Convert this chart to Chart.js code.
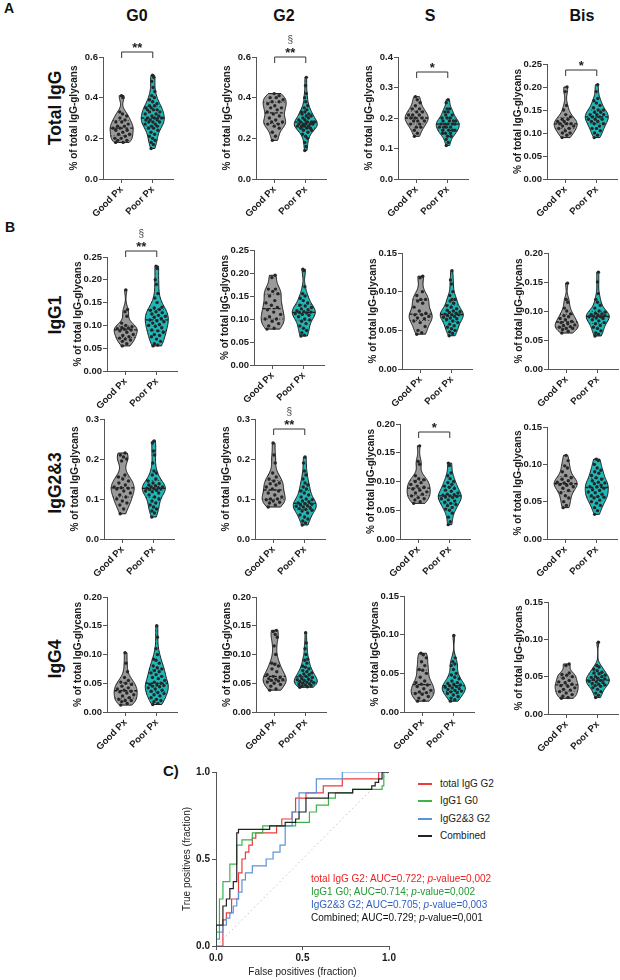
<!DOCTYPE html>
<html>
<head>
<meta charset="utf-8">
<script src="https://cdn.jsdelivr.net/npm/chart.js@4.4.1/dist/chart.umd.min.js"></script>
<style>
body { margin: 0; background: #fff; font-family: 'Liberation Sans', Arial, sans-serif; color: #111; }
#page { position: relative; width: 620px; height: 980px; overflow: hidden; }
.lab { position: absolute; white-space: nowrap; font-weight: bold; }
.rot { transform: translate(-50%, -50%) rotate(-90deg); }
.ctr { transform: translate(-50%, -50%); }
canvas { position: absolute; }
.leg { position: absolute; font-size: 10px; white-space: nowrap; color: #1a1a1a; }
.leg i { display: inline-block; width: 14px; height: 2px; vertical-align: middle; margin-right: 8px; }
.auc { position: absolute; font-size: 10px; white-space: nowrap; transform: translateY(-50%); }
</style>
</head>
<body>
<div id="page"></div>
<script>
// categories and labels
const groups = ['Good Px', 'Poor Px'];
const glycans = ['G0', 'G2', 'S', 'Bis'];
const subclasses = ['Total IgG', 'IgG1', 'IgG2&3', 'IgG4'];
const yTitle = '% of total IgG-glycans';

// y axis max / step, per subclass row and glycan column
const yMax  = [[0.6, 0.6, 0.4, 0.25], [0.25, 0.25, 0.15, 0.20], [0.3, 0.3, 0.20, 0.15], [0.20, 0.20, 0.15, 0.15]];
const yStep = [[0.2, 0.2, 0.1, 0.05], [0.05, 0.05, 0.05, 0.05], [0.1, 0.1, 0.05, 0.05], [0.05, 0.05, 0.05, 0.05]];

// significance marks
const stars   = [['**', '**', '*', '*'], ['**', '', '', ''], ['', '**', '*', ''], ['', '', '', '']];
const section = [[0, 1, 0, 0], [1, 0, 0, 0], [0, 1, 0, 0], [0, 0, 0, 0]];

// Total IgG
const totG0_good = [0.41,0.40,0.33,0.32,0.31,0.30,0.29,0.28,0.28,0.27,0.26,0.26,0.25,0.25,0.24,0.24,0.23,0.22,0.22,0.21,0.20,0.20,0.19,0.19,0.18,0.18];
const totG0_poor = [0.51,0.50,0.48,0.45,0.43,0.41,0.40,0.39,0.38,0.37,0.36,0.36,0.35,0.35,0.34,0.34,0.34,0.33,0.33,0.32,0.32,0.31,0.31,0.30,0.30,0.30,0.29,0.29,0.29,0.28,0.28,0.28,0.27,0.27,0.26,0.26,0.25,0.25,0.24,0.23,0.22,0.21,0.20,0.19,0.18,0.17,0.15];
const totG2_good = [0.42,0.41,0.40,0.40,0.39,0.38,0.38,0.37,0.36,0.35,0.35,0.34,0.33,0.32,0.31,0.30,0.29,0.28,0.28,0.27,0.27,0.26,0.25,0.23,0.21,0.19];
const totG2_poor = [0.50,0.46,0.42,0.40,0.38,0.36,0.35,0.34,0.33,0.33,0.32,0.32,0.31,0.31,0.30,0.30,0.29,0.29,0.28,0.28,0.28,0.28,0.27,0.27,0.27,0.27,0.27,0.26,0.26,0.26,0.26,0.25,0.25,0.25,0.24,0.24,0.23,0.22,0.21,0.20,0.18,0.16,0.14];
const totS_good = [0.27,0.26,0.25,0.24,0.23,0.23,0.22,0.22,0.21,0.21,0.21,0.20,0.20,0.20,0.19,0.19,0.19,0.18,0.18,0.17,0.17,0.16,0.15,0.14];
const totS_poor = [0.26,0.25,0.23,0.23,0.22,0.22,0.21,0.21,0.20,0.20,0.20,0.19,0.19,0.19,0.19,0.18,0.18,0.18,0.18,0.18,0.17,0.17,0.17,0.17,0.16,0.16,0.16,0.16,0.15,0.15,0.15,0.14,0.14,0.13,0.12,0.11];
const totBis_good = [0.20,0.19,0.16,0.15,0.14,0.135,0.13,0.13,0.125,0.125,0.12,0.12,0.12,0.115,0.115,0.11,0.11,0.105,0.10,0.10,0.095,0.09];
const totBis_poor = [0.205,0.19,0.175,0.17,0.165,0.16,0.155,0.15,0.15,0.145,0.145,0.14,0.14,0.14,0.135,0.135,0.13,0.13,0.13,0.125,0.125,0.12,0.12,0.115,0.11,0.11,0.105,0.10,0.095,0.09];

// IgG1
const g1G0_good = [0.178,0.135,0.13,0.12,0.105,0.10,0.097,0.095,0.094,0.093,0.092,0.09,0.088,0.085,0.08,0.078,0.075,0.072,0.07,0.068,0.065,0.06,0.055];
const g1G0_poor = [0.23,0.225,0.20,0.19,0.17,0.16,0.15,0.14,0.138,0.135,0.133,0.13,0.128,0.125,0.122,0.12,0.118,0.115,0.112,0.11,0.108,0.105,0.102,0.10,0.098,0.095,0.09,0.088,0.085,0.08,0.078,0.075,0.07,0.065,0.06,0.057,0.055];
const g1G2_good = [0.195,0.19,0.165,0.165,0.16,0.155,0.15,0.14,0.135,0.13,0.125,0.12,0.115,0.11,0.105,0.10,0.10,0.095,0.09,0.085,0.08,0.078];
const g1G2_poor = [0.208,0.205,0.17,0.155,0.15,0.145,0.14,0.135,0.13,0.128,0.125,0.122,0.12,0.118,0.116,0.115,0.114,0.113,0.112,0.11,0.108,0.105,0.10,0.098,0.095,0.09,0.085,0.08,0.075,0.07,0.065,0.063];
const g1S_good = [0.12,0.118,0.10,0.095,0.09,0.09,0.088,0.085,0.08,0.075,0.072,0.07,0.07,0.068,0.066,0.065,0.062,0.06,0.055,0.05,0.047,0.045];
const g1S_poor = [0.127,0.115,0.11,0.10,0.095,0.09,0.09,0.088,0.085,0.082,0.08,0.078,0.076,0.075,0.074,0.073,0.072,0.071,0.07,0.07,0.069,0.068,0.067,0.066,0.065,0.064,0.062,0.06,0.058,0.056,0.054,0.052,0.05,0.048,0.046,0.043];
const g1Bis_good = [0.148,0.12,0.115,0.105,0.10,0.095,0.092,0.09,0.087,0.085,0.082,0.08,0.078,0.076,0.075,0.073,0.072,0.07,0.07,0.068,0.065,0.062];
const g1Bis_poor = [0.167,0.15,0.13,0.12,0.115,0.11,0.105,0.10,0.098,0.096,0.095,0.094,0.093,0.092,0.091,0.09,0.09,0.088,0.087,0.085,0.083,0.08,0.078,0.075,0.072,0.07,0.066,0.062,0.06,0.057];

// IgG2&3
const g23G0_good = [0.215,0.21,0.205,0.20,0.195,0.16,0.155,0.15,0.145,0.14,0.135,0.13,0.128,0.127,0.125,0.12,0.115,0.11,0.105,0.10,0.095,0.09,0.085,0.075,0.063];
const g23G0_poor = [0.245,0.24,0.22,0.21,0.19,0.17,0.165,0.16,0.15,0.145,0.14,0.138,0.135,0.133,0.13,0.13,0.128,0.127,0.126,0.125,0.124,0.122,0.12,0.118,0.115,0.11,0.105,0.10,0.095,0.09,0.085,0.08,0.075,0.07,0.065,0.055];
const g23G2_good = [0.24,0.21,0.19,0.165,0.155,0.15,0.145,0.14,0.138,0.135,0.13,0.125,0.12,0.115,0.11,0.105,0.10,0.10,0.098,0.095,0.092,0.09,0.085,0.08];
const g23G2_poor = [0.205,0.19,0.17,0.16,0.15,0.14,0.135,0.13,0.125,0.12,0.115,0.11,0.105,0.10,0.098,0.095,0.093,0.09,0.088,0.087,0.085,0.083,0.082,0.08,0.078,0.076,0.074,0.072,0.07,0.065,0.06,0.055,0.05,0.045,0.04,0.035];
const g23S_good = [0.162,0.135,0.13,0.11,0.105,0.103,0.10,0.098,0.095,0.092,0.09,0.087,0.085,0.082,0.08,0.078,0.075,0.072,0.07,0.068,0.065,0.062];
const g23S_poor = [0.132,0.128,0.115,0.11,0.105,0.10,0.098,0.095,0.092,0.09,0.088,0.085,0.083,0.08,0.078,0.077,0.076,0.075,0.074,0.073,0.072,0.07,0.068,0.066,0.064,0.062,0.06,0.058,0.055,0.052,0.05,0.045,0.038,0.03,0.025];
const g23Bis_good = [0.112,0.105,0.098,0.095,0.09,0.085,0.082,0.08,0.078,0.076,0.075,0.074,0.073,0.072,0.07,0.068,0.065,0.062,0.058,0.055,0.05,0.045,0.042];
const g23Bis_poor = [0.107,0.105,0.10,0.095,0.092,0.09,0.088,0.085,0.082,0.08,0.078,0.076,0.075,0.074,0.072,0.07,0.07,0.068,0.066,0.065,0.063,0.062,0.06,0.058,0.057,0.056,0.055,0.052,0.05,0.048,0.045,0.042,0.038,0.033];

// IgG4
const g4G0_good = [0.103,0.085,0.07,0.06,0.055,0.052,0.05,0.048,0.045,0.042,0.04,0.038,0.036,0.035,0.033,0.03,0.028,0.025,0.022,0.02,0.02,0.018,0.015,0.012];
const g4G0_poor = [0.15,0.13,0.11,0.10,0.092,0.09,0.085,0.08,0.077,0.075,0.072,0.07,0.068,0.065,0.062,0.06,0.058,0.055,0.052,0.05,0.048,0.047,0.046,0.045,0.044,0.042,0.04,0.038,0.036,0.034,0.032,0.03,0.028,0.025,0.022,0.02,0.018,0.015,0.013];
const g4G2_good = [0.142,0.14,0.135,0.13,0.115,0.10,0.085,0.083,0.08,0.075,0.07,0.065,0.062,0.06,0.058,0.057,0.056,0.055,0.054,0.052,0.05,0.048,0.045,0.04,0.038];
const g4G2_poor = [0.138,0.12,0.11,0.10,0.092,0.09,0.085,0.08,0.078,0.075,0.072,0.07,0.068,0.066,0.065,0.063,0.062,0.06,0.058,0.057,0.056,0.055,0.054,0.053,0.052,0.051,0.05,0.049,0.048,0.047,0.046,0.045,0.044,0.043];
const g4S_good = [0.076,0.074,0.07,0.065,0.06,0.055,0.054,0.05,0.045,0.04,0.038,0.036,0.035,0.033,0.03,0.028,0.026,0.025,0.024,0.023,0.02,0.018,0.015,0.014];
const g4S_poor = [0.099,0.07,0.065,0.062,0.06,0.055,0.05,0.048,0.045,0.043,0.04,0.038,0.037,0.036,0.035,0.034,0.033,0.032,0.031,0.03,0.029,0.028,0.027,0.026,0.025,0.024,0.022,0.02,0.018,0.016,0.014];
const g4Bis_good = [0.067,0.065,0.055,0.053,0.052,0.05,0.048,0.045,0.043,0.042,0.04,0.038,0.037,0.035,0.033,0.032,0.03,0.028,0.026,0.024,0.022,0.021];
const g4Bis_poor = [0.096,0.065,0.063,0.06,0.058,0.056,0.055,0.054,0.052,0.05,0.05,0.049,0.048,0.047,0.046,0.045,0.044,0.043,0.042,0.041,0.04,0.039,0.038,0.037,0.035,0.033,0.03,0.028,0.025,0.022];

const values = [
  [[totG0_good, totG0_poor], [totG2_good, totG2_poor], [totS_good, totS_poor], [totBis_good, totBis_poor]],
  [[g1G0_good, g1G0_poor], [g1G2_good, g1G2_poor], [g1S_good, g1S_poor], [g1Bis_good, g1Bis_poor]],
  [[g23G0_good, g23G0_poor], [g23G2_good, g23G2_poor], [g23S_good, g23S_poor], [g23Bis_good, g23Bis_poor]],
  [[g4G0_good, g4G0_poor], [g4G2_good, g4G2_poor], [g4S_good, g4S_poor], [g4Bis_good, g4Bis_poor]]
];

// ROC curves (false positive fraction, true positive fraction)
const rocTotalG2 = [[0,0],[0.04,0],[0.04,0.15],[0.06,0.15],[0.06,0.19],[0.09,0.19],[0.09,0.27],[0.13,0.27],[0.13,0.42],[0.15,0.42],[0.15,0.50],[0.17,0.50],[0.17,0.54],[0.19,0.54],[0.19,0.58],[0.21,0.58],[0.21,0.62],[0.23,0.62],[0.23,0.65],[0.35,0.65],[0.35,0.69],[0.38,0.69],[0.38,0.73],[0.44,0.73],[0.44,0.77],[0.46,0.77],[0.46,0.85],[0.52,0.85],[0.52,0.88],[0.62,0.88],[0.62,0.92],[0.73,0.92],[0.73,0.96],[0.94,0.96],[0.94,1],[1,1]];
const rocIgG1G0 = [[0,0],[0,0.08],[0.02,0.08],[0.02,0.27],[0.04,0.27],[0.04,0.37],[0.08,0.37],[0.08,0.47],[0.12,0.47],[0.12,0.58],[0.15,0.58],[0.15,0.61],[0.21,0.61],[0.21,0.65],[0.27,0.65],[0.27,0.69],[0.46,0.69],[0.46,0.71],[0.54,0.71],[0.54,0.77],[0.58,0.77],[0.58,0.81],[0.65,0.81],[0.65,0.85],[0.69,0.85],[0.69,0.88],[0.79,0.88],[0.79,0.90],[0.96,0.90],[0.96,0.92],[0.97,0.92],[0.97,1],[1,1]];
const rocIgG23G2 = [[0,0],[0,0.04],[0.02,0.04],[0.02,0.08],[0.04,0.08],[0.04,0.12],[0.06,0.12],[0.06,0.16],[0.08,0.16],[0.08,0.19],[0.10,0.19],[0.10,0.23],[0.12,0.23],[0.12,0.27],[0.13,0.27],[0.13,0.31],[0.15,0.31],[0.15,0.38],[0.17,0.38],[0.17,0.42],[0.21,0.42],[0.21,0.46],[0.29,0.46],[0.29,0.50],[0.33,0.50],[0.33,0.54],[0.37,0.54],[0.37,0.58],[0.40,0.58],[0.40,0.69],[0.44,0.69],[0.44,0.77],[0.48,0.77],[0.48,0.88],[0.58,0.88],[0.58,0.96],[0.73,0.96],[0.73,1],[1,1]];
const rocCombined = [[0,0],[0,0.12],[0.04,0.12],[0.04,0.23],[0.06,0.23],[0.06,0.27],[0.08,0.27],[0.08,0.33],[0.10,0.33],[0.10,0.37],[0.12,0.37],[0.12,0.65],[0.13,0.65],[0.13,0.67],[0.31,0.67],[0.31,0.69],[0.40,0.69],[0.40,0.71],[0.46,0.71],[0.46,0.73],[0.48,0.73],[0.48,0.77],[0.52,0.77],[0.52,0.85],[0.65,0.85],[0.65,0.88],[0.79,0.88],[0.79,0.90],[0.90,0.90],[0.90,0.92],[0.92,0.92],[0.92,0.94],[0.94,0.94],[0.94,0.96],[0.96,0.96],[0.96,1],[1,1]];
const rocChance = [[0,0],[1,1]];
const rocNames = ['total IgG G2', 'IgG1 G0', 'IgG2&3 G2', 'Combined'];
const rocSep = [':', ';', ';', ';'];
const rocAUC = ['0.722', '0.714', '0.705', '0.729'];
const rocP = ['0,002', '0,002', '0,003', '0,001'];

// ---- layout (pixels) ----
const axisLeft   = [[103, 256, 398, 547], [107, 254, 402, 548], [104, 255, 400, 547], [107, 256, 404, 548]];
const axisTop    = [[57, 57, 57, 64], [257, 250, 253, 253], [419, 419, 424, 427], [597, 597, 596, 602]];
const axisBottom = [[179, 179, 179, 179], [371, 365, 369, 369], [539, 539, 539, 539], [712, 712, 712, 714]];
const bracketOff = [[-5, 0, 15, 6], [-6, 0, 0, 0], [0, 10, 8, 0], [0, 0, 0, 0]];
const fills = ['#9a9a9a', '#1fb7b7'];
const rocColors = ['#f03a3a', '#3bb54a', '#5b93d9', '#222222'];
const FONT = "'Liberation Sans', Arial, sans-serif";

Chart.defaults.font.family = FONT;
Chart.defaults.color = '#1a1a1a';
const page = document.getElementById('page');

function addLabel(html, x, y, size, cls) {
  const d = document.createElement('div');
  d.className = 'lab ' + (cls || '');
  d.style.left = x + 'px';
  d.style.top = y + 'px';
  d.style.fontSize = size + 'px';
  d.innerHTML = html;
  page.appendChild(d);
  return d;
}

// kernel density outline of one violin, truncated at min/max
function violinShape(vals) {
  const s = vals.slice().sort((a, b) => a - b);
  const n = s.length;
  const mean = s.reduce((a, b) => a + b, 0) / n;
  const sd = Math.sqrt(s.reduce((a, b) => a + (b - mean) * (b - mean), 0) / (n - 1));
  const h = 0.7 * sd * Math.pow(n, -0.2);
  const lo = s[0], hi = s[n - 1];
  const pts = [];
  for (let i = 0; i <= 60; i++) {
    const y = lo + (hi - lo) * i / 60;
    let d = 0;
    s.forEach(v => { const z = (y - v) / h; d += Math.exp(-0.5 * z * z); });
    pts.push([y, d]);
  }
  const m = Math.max(...pts.map(p => p[1]));
  return pts.map(p => [p[0], 0.37 * p[1] / m]);
}

function halfWidth(shape, y) {
  for (let i = 1; i < shape.length; i++) {
    if (y <= shape[i][0]) {
      const a = shape[i - 1], b = shape[i];
      const t = b[0] === a[0] ? 0 : (y - a[0]) / (b[0] - a[0]);
      return a[1] + (b[1] - a[1]) * t;
    }
  }
  return shape[shape.length - 1][1];
}

function quantile(s, p) {
  const i = (s.length - 1) * p, a = Math.floor(i), b = Math.ceil(i);
  return s[a] + (s[b] - s[a]) * (i - a);
}

function makePanel(r, c) {
  const L = axisLeft[r][c], T = axisTop[r][c], B = axisBottom[r][c];
  const W = 52 + 70 + 8, H = (B - T) + 45 + 45;
  const cv = document.createElement('canvas');
  cv.width = W; cv.height = H;
  cv.style.left = (L - 52) + 'px';
  cv.style.top = (T - 45) + 'px';
  page.appendChild(cv);

  const sets = values[r][c];
  const shapes = sets.map(violinShape);
  const dec = yStep[r][c] < 0.1 ? 2 : 1;

  const datasets = sets.map((vals, k) => {
    const s = vals.slice().sort((a, b) => a - b);
    return {
      data: s.map((v, i) => {
        const u = (i * 0.618034) % 1;
        return { x: k + (2 * u - 1) * 0.8 * halfWidth(shapes[k], v), y: v };
      }),
      pointRadius: 1.7,
      pointBackgroundColor: '#262626',
      pointBorderWidth: 0
    };
  });

  const violins = {
    id: 'violins',
    beforeDatasetsDraw(chart) {
      const { ctx, scales: { x, y } } = chart;
      shapes.forEach((shape, k) => {
        ctx.save();
        ctx.beginPath();
        shape.forEach(([yy, hw], i) => {
          const px = x.getPixelForValue(k + hw), py = y.getPixelForValue(yy);
          i ? ctx.lineTo(px, py) : ctx.moveTo(px, py);
        });
        for (let i = shape.length - 1; i >= 0; i--) {
          ctx.lineTo(x.getPixelForValue(k - shape[i][1]), y.getPixelForValue(shape[i][0]));
        }
        ctx.closePath();
        ctx.fillStyle = fills[k];
        ctx.fill();
        ctx.strokeStyle = '#1a1a1a';
        ctx.lineWidth = 1;
        ctx.stroke();
        // median and quartiles
        const s = sets[k].slice().sort((a, b) => a - b);
        [[0.25, [1, 2], 0.8], [0.5, [3, 2], 1.3], [0.75, [1, 2], 0.8]].forEach(([p, dash, lw]) => {
          const q = quantile(s, p), hw = halfWidth(shape, q);
          ctx.beginPath();
          ctx.setLineDash(dash);
          ctx.lineWidth = lw;
          ctx.moveTo(x.getPixelForValue(k - hw), y.getPixelForValue(q));
          ctx.lineTo(x.getPixelForValue(k + hw), y.getPixelForValue(q));
          ctx.stroke();
        });
        ctx.restore();
      });
    },
    afterDraw(chart) {
      if (!stars[r][c]) return;
      const { ctx, scales: { x }, chartArea } = chart;
      const by = chartArea.top + bracketOff[r][c];
      const x0 = x.getPixelForValue(0), x1 = x.getPixelForValue(1);
      ctx.save();
      ctx.strokeStyle = '#333';
      ctx.lineWidth = 1;
      ctx.beginPath();
      ctx.moveTo(x0, by + 6); ctx.lineTo(x0, by); ctx.lineTo(x1, by); ctx.lineTo(x1, by + 6);
      ctx.stroke();
      ctx.fillStyle = '#1a1a1a';
      ctx.textAlign = 'center';
      ctx.textBaseline = 'middle';
      ctx.font = 'bold 13px ' + FONT;
      ctx.fillText(stars[r][c], (x0 + x1) / 2, by - 4);
      if (section[r][c]) {
        ctx.font = '10px ' + FONT;
        ctx.fillStyle = '#444';
        ctx.fillText('§', (x0 + x1) / 2, by - 17);
      }
      ctx.restore();
    }
  };

  new Chart(cv, {
    type: 'scatter',
    data: { datasets },
    plugins: [violins],
    options: {
      responsive: false,
      animation: false,
      layout: { padding: { top: 45, left: 0, right: 8, bottom: 0 } },
      plugins: { legend: { display: false }, tooltip: { enabled: false } },
      scales: {
        x: {
          type: 'linear', min: -0.6, max: 1.65,
          afterBuildTicks: ax => { ax.ticks = [{ value: 0 }, { value: 1 }]; },
          afterFit: ax => { ax.height = 45; ax.paddingLeft = 0; ax.paddingRight = 0; },
          grid: { drawOnChartArea: false, tickLength: 4, color: '#555' },
          border: { color: '#555' },
          ticks: {
            autoSkip: false, minRotation: 45, maxRotation: 45, padding: 1,
            font: { size: 9.5, weight: 'bold' }, color: '#1a1a1a',
            callback: v => groups[v]
          }
        },
        y: {
          min: 0, max: yMax[r][c],
          afterFit: ax => { ax.width = 52; ax.paddingTop = 0; ax.paddingBottom = 0; },
          grid: { drawOnChartArea: false, tickLength: 4, color: '#555' },
          border: { color: '#555' },
          ticks: {
            stepSize: yStep[r][c], padding: 1,
            font: { size: 9.5, weight: 'bold' }, color: '#1a1a1a',
            callback: v => v.toFixed(dec)
          },
          title: {
            display: true, text: yTitle, color: '#1a1a1a',
            font: { size: 10, weight: 'bold' }, padding: { top: 17, bottom: 0 }
          }
        }
      }
    }
  });
}

// headings
addLabel('A', 4, 0, 14);
addLabel('B', 5, 219, 14);
addLabel('C)', 163, 762, 15);
const headX = [137, 284, 430, 582];
glycans.forEach((g, c) => addLabel(g, headX[c], 16, 16, 'ctr'));
const rowY = [108, 315, 483, 659];
subclasses.forEach((s, r) => addLabel(s, 55, rowY[r], 17.5, 'rot'));

for (let r = 0; r < 4; r++) for (let c = 0; c < 4; c++) makePanel(r, c);

// ROC panel
const rocCv = document.createElement('canvas');
rocCv.width = 230; rocCv.height = 220;
rocCv.style.left = '170px'; rocCv.style.top = '760px';
page.appendChild(rocCv);

const toXY = arr => arr.map(([x, y]) => ({ x, y }));
const rocSets = [rocTotalG2, rocIgG1G0, rocIgG23G2, rocCombined];

new Chart(rocCv, {
  type: 'scatter',
  data: {
    datasets: rocSets.map((d, i) => ({
      data: toXY(d), showLine: true, borderColor: rocColors[i], borderWidth: 1.2,
      pointRadius: 0, fill: false, order: 4 - i
    })).concat([{
      data: toXY(rocChance), showLine: true, borderColor: '#bdbdbd', borderWidth: 1,
      borderDash: [1.5, 3], pointRadius: 0, order: 9
    }])
  },
  options: {
    responsive: false,
    animation: false,
    layout: { padding: { top: 12, left: 0, right: 11, bottom: 0 } },
    plugins: { legend: { display: false }, tooltip: { enabled: false } },
    scales: {
      x: {
        min: 0, max: 1,
        afterFit: ax => { ax.height = 34; ax.paddingLeft = 0; ax.paddingRight = 0; },
        grid: { drawOnChartArea: false, tickLength: 4, color: '#555' },
        border: { color: '#555' },
        ticks: { stepSize: 0.5, padding: 2, font: { size: 10, weight: 'bold' }, color: '#1a1a1a', callback: v => v.toFixed(1) },
        title: { display: true, text: 'False positives (fraction)', font: { size: 10 }, color: '#1a1a1a', padding: { top: 0, bottom: 2 } }
      },
      y: {
        min: 0, max: 1,
        afterFit: ax => { ax.width = 46; ax.paddingTop = 0; ax.paddingBottom = 0; },
        grid: { drawOnChartArea: false, tickLength: 4, color: '#555' },
        border: { color: '#555' },
        ticks: { stepSize: 0.5, padding: 2, font: { size: 10, weight: 'bold' }, color: '#1a1a1a', callback: v => v.toFixed(1) },
        title: { display: true, text: 'True positives (fraction)', font: { size: 10 }, color: '#1a1a1a', padding: { top: 11, bottom: 0 } }
      }
    }
  }
});

// ROC legend and AUC notes
const legY = [784, 801, 819, 836];
rocNames.forEach((name, i) => {
  const d = document.createElement('div');
  d.className = 'leg';
  d.style.left = '418px';
  d.style.top = (legY[i] - 6) + 'px';
  d.innerHTML = '<i style="background:' + rocColors[i] + '"></i>' + name;
  page.appendChild(d);
});
const aucColors = ['#ee2222', '#229933', '#2f5fc4', '#111111'];
const aucY = [878, 891, 904, 917];
rocNames.forEach((name, i) => {
  const d = document.createElement('div');
  d.className = 'auc';
  d.style.left = '311px';
  d.style.top = aucY[i] + 'px';
  d.style.color = aucColors[i];
  d.innerHTML = name + rocSep[i] + ' AUC=' + rocAUC[i] + '; <i>p</i>-value=' + rocP[i];
  page.appendChild(d);
});
</script>
</body>
</html>
